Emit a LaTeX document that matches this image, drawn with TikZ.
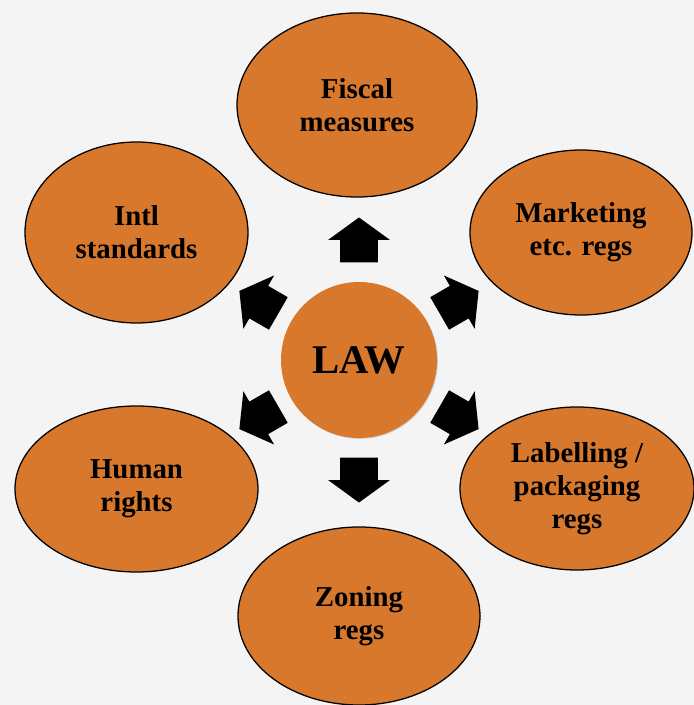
\documentclass[tikz,border=0pt]{standalone}
\usepackage{fontspec}
\setmainfont{Liberation Serif}
\usepackage{tikz}
\usetikzlibrary{shapes.geometric}
\usetikzlibrary{shapes.arrows}
\usetikzlibrary{shadows}
\usetikzlibrary{calc}
\definecolor{lawfill}{HTML}{D8782C}
\definecolor{paper}{HTML}{F4F4F4}
\tikzset{
  topic/.style={ellipse, draw=black, line width=0.9pt, fill=lawfill, inner sep=0pt, align=center,
    font=\fontsize{20.5}{23.5}\selectfont\bfseries},
  hub/.style={circle, fill=lawfill, minimum size=3.9cm, inner sep=0pt,
    font=\fontsize{29}{32}\selectfont\bfseries,
    drop shadow={shadow xshift=0.6pt, shadow yshift=-0.6pt, opacity=0.35}},
  blockarrow/.style={single arrow, fill=black, inner xsep=0pt, inner ysep=0.4625cm, minimum height=1.125cm,
    single arrow head extend=0.3cm, single arrow tip angle=108}
}

\begin{document}
\begin{tikzpicture}
            \fill[paper] (0, 0) rectangle (17.35, 17.625);
            \useasboundingbox (0, 0) rectangle (17.35, 17.625);
            
            \node [hub] (law) at (8.975, 8.625) {LAW};
            
            \node [topic, minimum width=6cm, minimum height=4.6cm] (fiscal) at (8.925, 15) {Fiscal\\measures};
            \node [topic, minimum width=5.575cm, minimum height=4.525cm] (intl) at (3.4125, 11.8125) {Intl\\standards};
            \node [topic, minimum width=5.55cm, minimum height=4.125cm] (marketing) at (14.525, 11.8125) {Marketing\\etc. regs};
            \node [topic, minimum width=6.075cm, minimum height=4.15cm] (human) at (3.4125, 5.4) {Human\\rights};
            \node [topic, minimum width=5.85cm, minimum height=4.075cm] (labelling) at (14.425, 5.4125) {Labelling /\\packaging\\regs};
            \node [topic, minimum width=6.05cm, minimum height=4.45cm] (zoning) at (8.975, 2.225) {Zoning\\regs};
            
            \foreach \ang/\dist in {90/2.83, 30/2.72, -30/2.72, -90/2.83, 150/2.72, 210/2.72}
                \node [blockarrow, rotate=\ang] (arrow\ang) at ($(law) + (\ang:\dist cm)$) {};
        \end{tikzpicture}
\end{document}
